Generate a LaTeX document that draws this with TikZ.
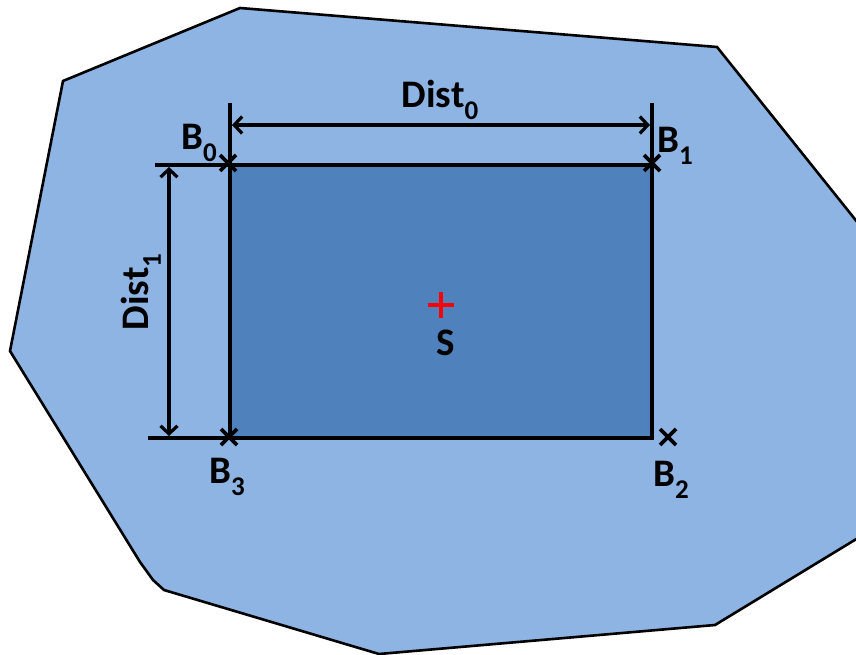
\documentclass[tikz,border=0pt]{standalone}
\usepackage{fontspec}
\setmainfont{Carlito}
\usetikzlibrary{arrows.meta}
\definecolor{outerblue}{HTML}{8EB4E3}
\definecolor{innerblue}{HTML}{4F81BD}
\newcommand{\sbs}[1]{\raisebox{-0.32em}{\fontsize{27}{27}\selectfont #1}}
\tikzset{
  lbl/.style={font=\fontsize{39}{39}\selectfont\bfseries, inner sep=0pt},
  edge/.style={line width=3.2pt, black},
  dim/.style={line width=3.2pt, black, {Straight Barb[length=8pt,width=17pt,line width=3.2pt]}-{Straight Barb[length=8pt,width=17pt,line width=3.2pt]}},
  crossmark/.style={line width=3.6pt, black},
}
\begin{document}
\begin{tikzpicture}[x=1pt,y=-1pt]
\useasboundingbox (0,0) rectangle (856,655);
% outer polygon
\coordinate (p1) at (240,8);
\coordinate (p2) at (717,47);
\coordinate (p3) at (858,223);
\coordinate (p4) at (858,538);
\coordinate (p5) at (715,625);
\coordinate (p6) at (379,654);
\coordinate (p7) at (164,590);
\coordinate (p8) at (153,580);
\coordinate (p9) at (140,562);
\coordinate (p10) at (10,351);
\coordinate (p11) at (63,81);
\fill[outerblue] (p1) -- (p2) -- (p3) -- (p4) -- (p5) -- (p6) -- (p7) -- (p8) -- (p9) -- (p10) -- (p11) -- cycle;
\draw[line width=2.6pt, line join=miter] (p3) -- (p2) -- (p1) -- (p11) -- (p10) -- (p9) -- (p8) -- (p7) -- (p6) -- (p5) -- (p4);
% inner rectangle
\coordinate (B0) at (230,165);
\coordinate (B1) at (652,165);
\coordinate (B2c) at (652,438);
\coordinate (B3) at (230,438);
\fill[innerblue] (B0) rectangle (B2c);
\draw[edge] (B3) -- (B2c) -- (B1);
% extension lines
\coordinate (tl) at (155,165);
\coordinate (bl) at (148,438);
\coordinate (lt) at (230,103);
\coordinate (rt) at (652,103);
\draw[edge] (tl) -- (B1);
\draw[edge] (bl) -- (B3);
\draw[edge] (lt) -- (B3);
\draw[edge] (rt) -- (B1);
% dimension arrows
\coordinate (d0a) at (232,125);
\coordinate (d0b) at (650,125);
\coordinate (d1a) at (169,167);
\coordinate (d1b) at (169,436);
\draw[dim] (d0a) -- (d0b);
\draw[dim] (d1a) -- (d1b);
% crosses
\foreach \n/\x/\y in {c0/228/163, c1/652/163, c3/229/437, c2/668/437}{
  \draw[crossmark] (\x-8,\y-8) -- (\x+8,\y+8);
  \draw[crossmark] (\x-8,\y+8) -- (\x+8,\y-8);
}
% red plus
\draw[red, line width=3.6pt] (428,305) -- (454,305);
\draw[red, line width=3.6pt] (441,292) -- (441,318);
% labels
\node[lbl] (S) at (446,343) {S};
\node[lbl] (lB0) at (199,143) {B\sbs{0}};
\node[lbl] (lB1) at (675,146) {B\sbs{1}};
\node[lbl] (lB3) at (227,477) {B\sbs{3}};
\node[lbl] (lB2) at (671,480) {B\sbs{2}};
\node[lbl] (lD0) at (440,100) {Dist\sbs{0}};
\node[lbl, rotate=90] (lD1) at (141,292) {Dist\sbs{1}};
\end{tikzpicture}
\end{document}
